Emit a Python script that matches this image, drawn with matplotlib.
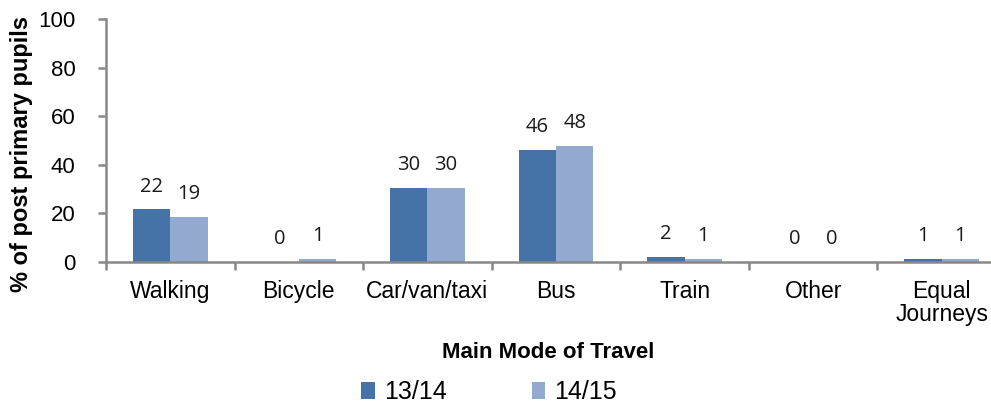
import matplotlib
matplotlib.use("Agg")
import matplotlib.pyplot as plt
import numpy as np

categories = ["Walking", "Bicycle", "Car/van/taxi", "Bus", "Train", "Other", "Equal\nJourneys"]
series_names = ["13/14", "14/15"]
values_1314 = [21.8, 0.0, 30.5, 46.2, 2.1, 0.0, 1.4]
values_1415 = [18.6, 1.4, 30.5, 47.8, 1.4, 0.0, 1.4]
yticks = [0, 20, 40, 60, 80, 100]

dark = "#4573A7"
light = "#94A9D0"
gray = "#888888"

fig = plt.figure(figsize=(9.91, 4.04), dpi=100)
ax = fig.add_axes([106/991, (404-262)/404, 900/991, 243/404])

x = np.arange(len(categories))
w = 0.29
b1 = ax.bar(x - w/2, values_1314, width=w, color=dark, label=series_names[0])
b2 = ax.bar(x + w/2, values_1415, width=w, color=light, label=series_names[1])

for bars, vals in ((b1, values_1314), (b2, values_1415)):
    for rect, v in zip(bars, vals):
        ax.annotate(f"{v:.0f}", (rect.get_x() + rect.get_width()/2, rect.get_height()),
                    xytext=(0, 9), textcoords="offset points", ha="center", va="bottom",
                    fontsize=14.5, family="Open Sans", color="#1a1a1a")

ax.set_xlim(-0.5, len(categories) - 0.5)
ax.set_ylim(0, 100)
ax.set_yticks(yticks)
ax.set_yticklabels([str(t) for t in yticks], fontsize=16, family="Liberation Sans")
ax.set_xticks(x)
ax.set_xticklabels(categories, fontsize=16.5, family="Liberation Sans", linespacing=1.0)
ax.set_xticks(np.arange(len(categories) + 1) - 0.5, minor=True)
ax.tick_params(axis="x", which="major", length=0, pad=13)
ax.tick_params(axis="x", which="minor", length=6, width=1.8, color=gray, direction="out")
ax.tick_params(axis="y", length=6, width=1.8, color=gray, direction="out", pad=16)

for s in ("top", "right"):
    ax.spines[s].set_visible(False)
for s in ("left", "bottom"):
    ax.spines[s].set_color(gray)
    ax.spines[s].set_linewidth(1.8)

fig.text(22/991, 1 - 153.5/404, "% of post primary pupils", rotation=90, ha="center", va="center",
         fontsize=17, fontweight="bold", family="Liberation Sans")
fig.text(548/991, 1 - 352/404, "Main Mode of Travel", ha="center", va="center",
         fontsize=16, fontweight="bold", family="Liberation Sans")

fig.legend(handles=[b1, b2], labels=series_names, loc="center", bbox_to_anchor=(489/991, 1 - 392/404),
           ncol=2, frameon=False, prop={"family": "Liberation Sans", "size": 18},
           handlelength=0.55, handleheight=0.7, handletextpad=0.35, columnspacing=3.4)

fig.savefig("out.png", dpi=100)
